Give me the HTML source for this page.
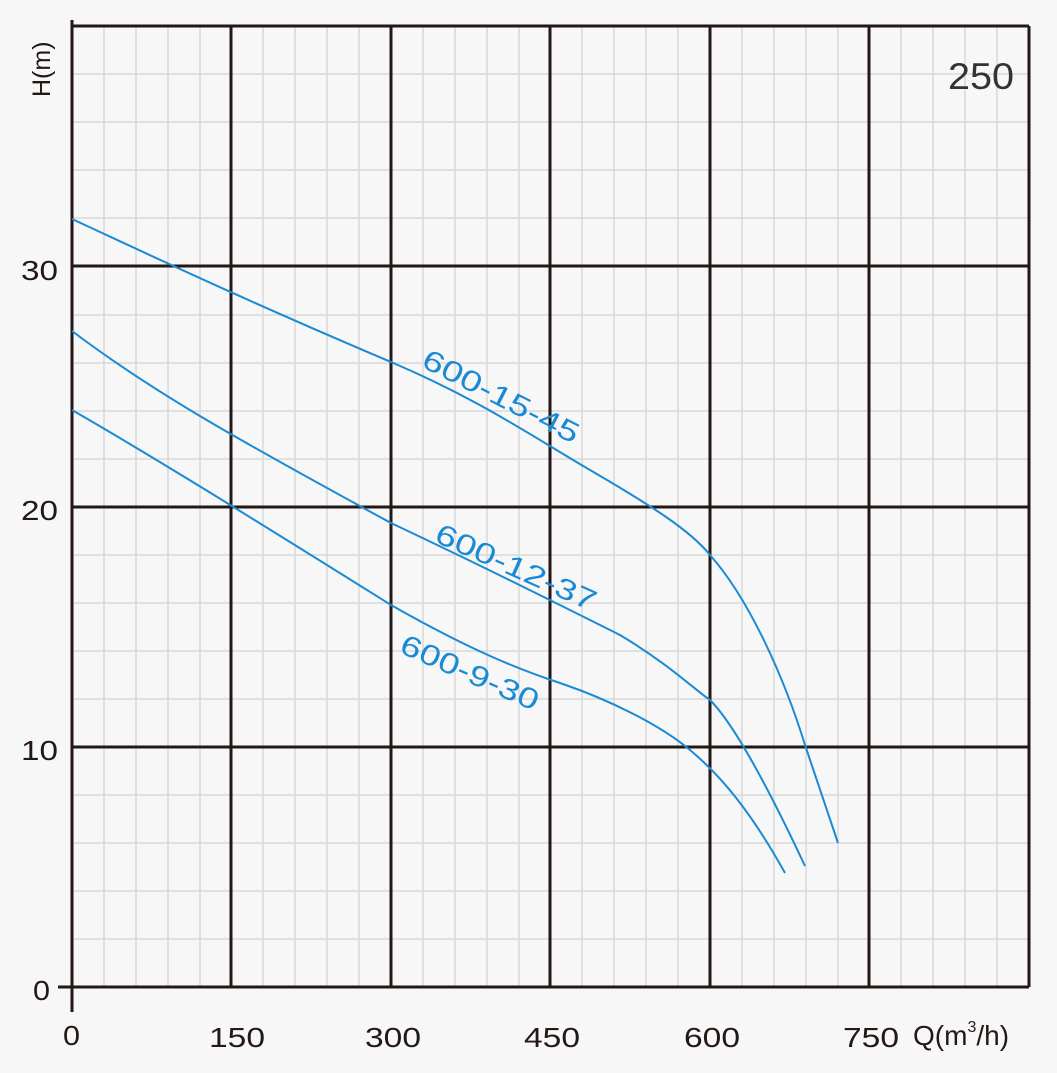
<!DOCTYPE html>
<html><head><style>body{margin:0;background:#f7f7f7}svg{display:block}</style></head><body>
<svg width="1057" height="1073" xmlns="http://www.w3.org/2000/svg" font-family="Liberation Sans, Arial, sans-serif">
<rect width="1057" height="1073" fill="#f7f7f7"/>
<g stroke="#d8d8d8" stroke-width="1.5">
<path d="M104 26V987M136 26V987M168 26V987M200 26V987M263 26V987M295 26V987M327 26V987M359 26V987M423 26V987M455 26V987M487 26V987M519 26V987M582 26V987M614 26V987M646 26V987M678 26V987M742 26V987M774 26V987M806 26V987M838 26V987M901 26V987M933 26V987M965 26V987M997 26V987"/>
<path d="M72 939H1029M72 891H1029M72 843H1029M72 795H1029M72 699H1029M72 651H1029M72 603H1029M72 555H1029M72 459H1029M72 411H1029M72 363H1029M72 315H1029M72 218H1029M72 170H1029M72 122H1029M72 74H1029"/>
</g>
<g stroke="#231815" stroke-width="3">
<path d="M231 26V987M391 26V987M550 26V987M710 26V987M869 26V987M1029 26V987"/>
<path d="M72 747H1029M72 507H1029M72 266H1029M72 26H1029"/>
<path d="M72 20V1012M58 987H1029"/>
</g>
<g fill="none" stroke="#1a8ad4" stroke-width="2">
<path d="M72 219 C150 255,231 294,391 362 C480 400,530 435,590 470 C650 505,690 530,710 555 C750 600,785 680,805 745 L838 843"/>
<path d="M72 331 C150 390,231 436,391 523 C480 565,550 600,620 635 C670 665,695 690,710 700 C730 720,760 770,805 866"/>
<path d="M72 410 C150 455,231 505,391 605 C470 650,520 670,560 683 C610 700,660 725,690 750 C720 775,750 810,785 873"/>
</g>
<g fill="#1a8ad4" font-size="29">
<text transform="translate(420,366) rotate(27)" textLength="172" lengthAdjust="spacingAndGlyphs">600-15-45</text>
<text transform="translate(433,541) rotate(24)" textLength="173" lengthAdjust="spacingAndGlyphs">600-12-37</text>
<text transform="translate(398,652) rotate(23.5)" textLength="148" lengthAdjust="spacingAndGlyphs">600-9-30</text>
</g>
<g fill="#231815" font-size="28">
<text x="33" y="1000" textLength="17" lengthAdjust="spacingAndGlyphs">0</text>
<text x="21" y="760" textLength="37" lengthAdjust="spacingAndGlyphs">10</text>
<text x="21" y="520" textLength="37" lengthAdjust="spacingAndGlyphs">20</text>
<text x="21" y="280" textLength="37" lengthAdjust="spacingAndGlyphs">30</text>
<text x="63" y="1045" textLength="17" lengthAdjust="spacingAndGlyphs">0</text>
<text x="209" y="1047" textLength="56" lengthAdjust="spacingAndGlyphs">150</text>
<text x="365" y="1047" textLength="56" lengthAdjust="spacingAndGlyphs">300</text>
<text x="524" y="1047" textLength="56" lengthAdjust="spacingAndGlyphs">450</text>
<text x="684" y="1047" textLength="56" lengthAdjust="spacingAndGlyphs">600</text>
<text x="843" y="1047" textLength="56" lengthAdjust="spacingAndGlyphs">750</text>
<text x="913" y="1045">Q(m<tspan font-size="16" dy="-13">3</tspan><tspan dy="13">/h)</tspan></text>
<text transform="translate(50,97) rotate(-90)" font-size="25">H(m)</text>
<text x="948" y="89" font-size="37" fill="#333" textLength="66" lengthAdjust="spacingAndGlyphs">250</text>
</g>
</svg>
</body></html>
